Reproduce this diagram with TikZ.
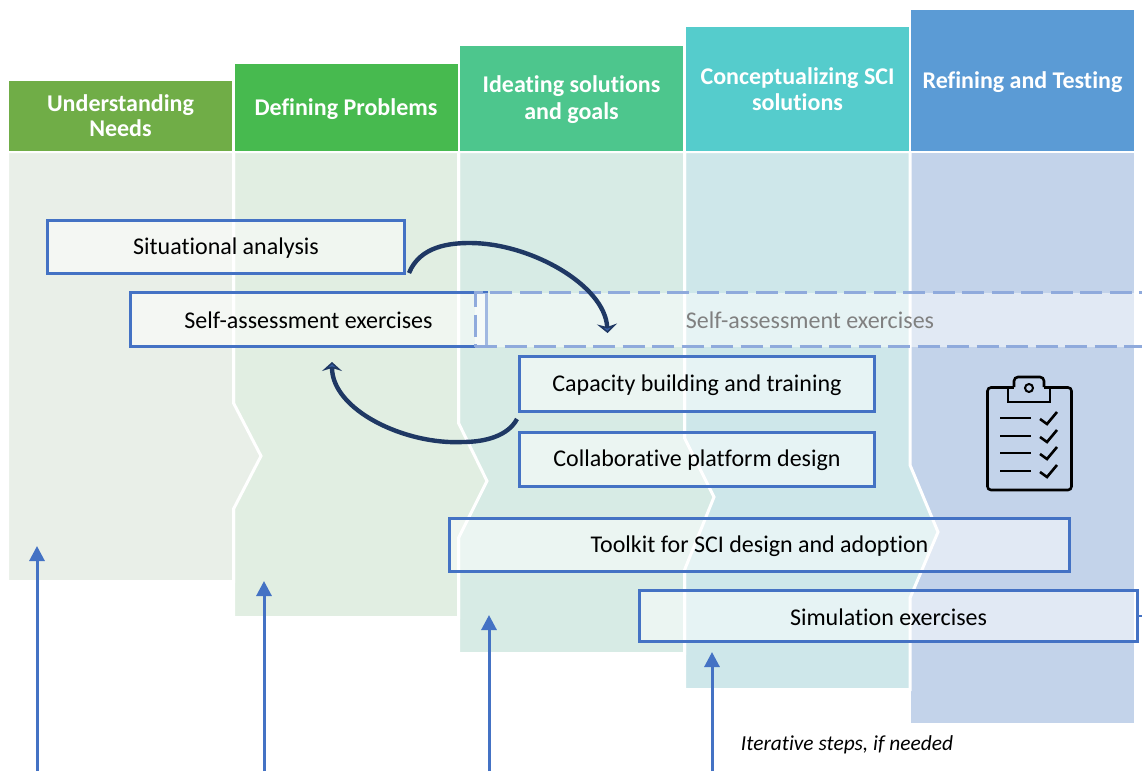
\documentclass[tikz,border=0pt]{standalone}
\usepackage{fontspec}
\setmainfont[Ligatures=NoCommon]{Carlito}
\usetikzlibrary{arrows.meta}
\definecolor{blueline}{HTML}{4472C4}
\definecolor{navy}{HTML}{1F3864}
\definecolor{dashblue}{HTML}{8FAADC}
\definecolor{bodya}{HTML}{E9EFE8}
\definecolor{bodyb}{HTML}{E1EEE2}
\definecolor{bodyc}{HTML}{D7EBE5}
\definecolor{bodyd}{HTML}{CEE7EA}
\definecolor{bodye}{HTML}{C3D3EA}
\definecolor{heada}{HTML}{70AD47}
\definecolor{headb}{HTML}{47BA4F}
\definecolor{headc}{HTML}{4DC68D}
\definecolor{headd}{HTML}{55CCCC}
\definecolor{heade}{HTML}{5B9BD5}
\newcommand{\tstrut}[1]{\rule{0pt}{#1pt}}
\tikzset{
  colbody/.style={draw=white,fill=#1,line width=3pt,line join=miter},
  header/.style={fill=#1,text=white,font=\fontsize{24}{27}\selectfont\bfseries,align=center,inner sep=0pt,minimum width=223pt},
  actbox/.style={draw=blueline,line width=3pt,fill=white,fill opacity=0.5,draw opacity=1,text opacity=1,text=black,font=\fontsize{24}{27}\selectfont,inner sep=0pt},
  ghostbox/.style={draw=dashblue,line width=3pt,dash pattern=on 22pt off 7.5pt,fill=white,fill opacity=0.5,draw opacity=1,text opacity=1,text=black!50,font=\fontsize{24}{27}\selectfont,inner sep=0pt},
  uparrow/.style={draw=blueline,line width=3pt,-{Triangle[length=15pt,width=15pt]}},
  curved/.style={draw=navy,line width=4.4pt,-{Stealth[length=9pt,width=20pt,inset=3pt,fill=blueline!70!navy]}},
  icon/.style={draw=black,line width=2.6pt},
}
\begin{document}
\begin{tikzpicture}[x=1pt,y=-1pt]
\useasboundingbox (0,0) rectangle (1142,771);
% column bodies, right to left so each chevron lies over its neighbour
\path[colbody=bodye] (909.5,151.5) -- (1135,151.5) -- (1135,724.5) -- (909.5,724.5) -- cycle;
\path[colbody=bodyd] (684.5,151.5) -- (910,151.5) -- (910,465) -- (938,532) -- (910,598) -- (910,689.5) -- (684.5,689.5) -- cycle;
\path[colbody=bodyc] (458.5,151.5) -- (684.5,151.5) -- (684.5,438) -- (714,497) -- (684.5,570) -- (684.5,653.5) -- (458.5,653.5) -- cycle;
\path[colbody=bodyb] (233.5,151.5) -- (458.5,151.5) -- (458.5,423) -- (487,481) -- (458.5,538) -- (458.5,617.5) -- (233.5,617.5) -- cycle;
\path[colbody=bodya] (7.5,151.5) -- (233.5,151.5) -- (233.5,403) -- (261,456) -- (233.5,509) -- (233.5,581.5) -- (7.5,581.5) -- cycle;
% headers
\node[header=heada,minimum height=70pt] (h1) at (120.5,116) {Understanding\\[-2pt]Needs};
\node[header=headb,minimum height=87pt] (h2) at (346,107.5) {\tstrut{19.5}Defining Problems};
\node[header=headc,minimum height=105pt] (h3) at (571.5,98.5) {\tstrut{18.5}Ideating solutions\\and goals};
\node[header=headd,minimum height=124pt] (h4) at (797.5,89) {\tstrut{17.5}Conceptualizing SCI\\[-1pt]solutions};
\node[header=heade,minimum height=141pt] (h5) at (1022.5,80.5) {\tstrut{19.5}Refining and Testing};
% activity boxes
\node[actbox,minimum width=357pt,minimum height=53pt] (sit) at (226,247) {\tstrut{18.4}Situational analysis};
\node[actbox,minimum width=356pt,minimum height=54pt] (self) at (308.5,319.5) {\tstrut{18.4}Self-assessment exercises};
\node[ghostbox,minimum width=670pt,minimum height=54pt] (ghost) at (810,319.5) {\tstrut{18.4}Self-assessment exercises};
\node[actbox,minimum width=355pt,minimum height=55pt] (cap) at (697,384) {\tstrut{18.4}Capacity building and training};
\node[actbox,minimum width=355pt,minimum height=54pt] (col) at (697,459.5) {\tstrut{18.8}Collaborative platform design};
\node[actbox,minimum width=620pt,minimum height=53pt] (tool) at (759.5,545) {\tstrut{18.4}Toolkit for SCI design and adoption};
\node[actbox,minimum width=498pt,minimum height=51pt] (sim) at (888.5,616) {\tstrut{18.4}Simulation exercises};
% curved connectors
\coordinate (tipa) at (607.5,333);
\coordinate (tipb) at (332,362);
\draw[curved] (sit.south east) ++(3,-2) .. controls (420,246) and (450,243) .. (470,243) .. controls (530,243) and (605,285) .. (tipa);
\draw[curved] (cap.south west) ++(-1,6) .. controls (508,436) and (485,442) .. (463,442) .. controls (405,445) and (332,410) .. (tipb);
% up arrows
\coordinate (a1) at (37,771); \coordinate (t1) at (37,546);
\coordinate (a2) at (264,771); \coordinate (t2) at (264,581);
\coordinate (a3) at (489,771); \coordinate (t3) at (489,615);
\coordinate (a4) at (712,771); \coordinate (t4) at (712,652);
\draw[uparrow] (a1) -- (t1);
\draw[uparrow] (a2) -- (t2);
\draw[uparrow] (a3) -- (t3);
\draw[uparrow] (a4) -- (t4);
% stub leaving the simulation box
\coordinate (stub) at (1142,616);
\draw[draw=blueline,line width=2.5pt] (sim.east) -- (stub);
% note
\node[font=\fontsize{21.4}{24}\selectfont\itshape,text=black,inner sep=0pt] (note) at (847,745) {Iterative steps, if needed};
% clipboard icon
\draw[icon,rounded corners=3.5pt] (1008,387.5) -- (987.5,387.5) -- (987.5,490) -- (1071.5,490) -- (1071.5,387.5) -- (1050,387.5);
\draw[icon] (1008,387.5) -- (1008,402) -- (1050,402) -- (1050,387.5);
\draw[icon,rounded corners=4pt] (1014,387) -- (1014,377) -- (1044,377) -- (1044,387);
\draw[icon] (1008,387.5) -- (1014,387.5);
\draw[icon] (1044,387.5) -- (1050,387.5);
\draw[icon,line width=2pt] (1029,388) circle (4pt);
\foreach \yy in {418,436,453,471}{
  \draw[icon] (1000,\yy) -- (1031,\yy);
  \draw[icon] (1040,\yy+1) -- (1047,\yy+6) -- (1057,\yy-6);
}
\end{tikzpicture}
\end{document}
